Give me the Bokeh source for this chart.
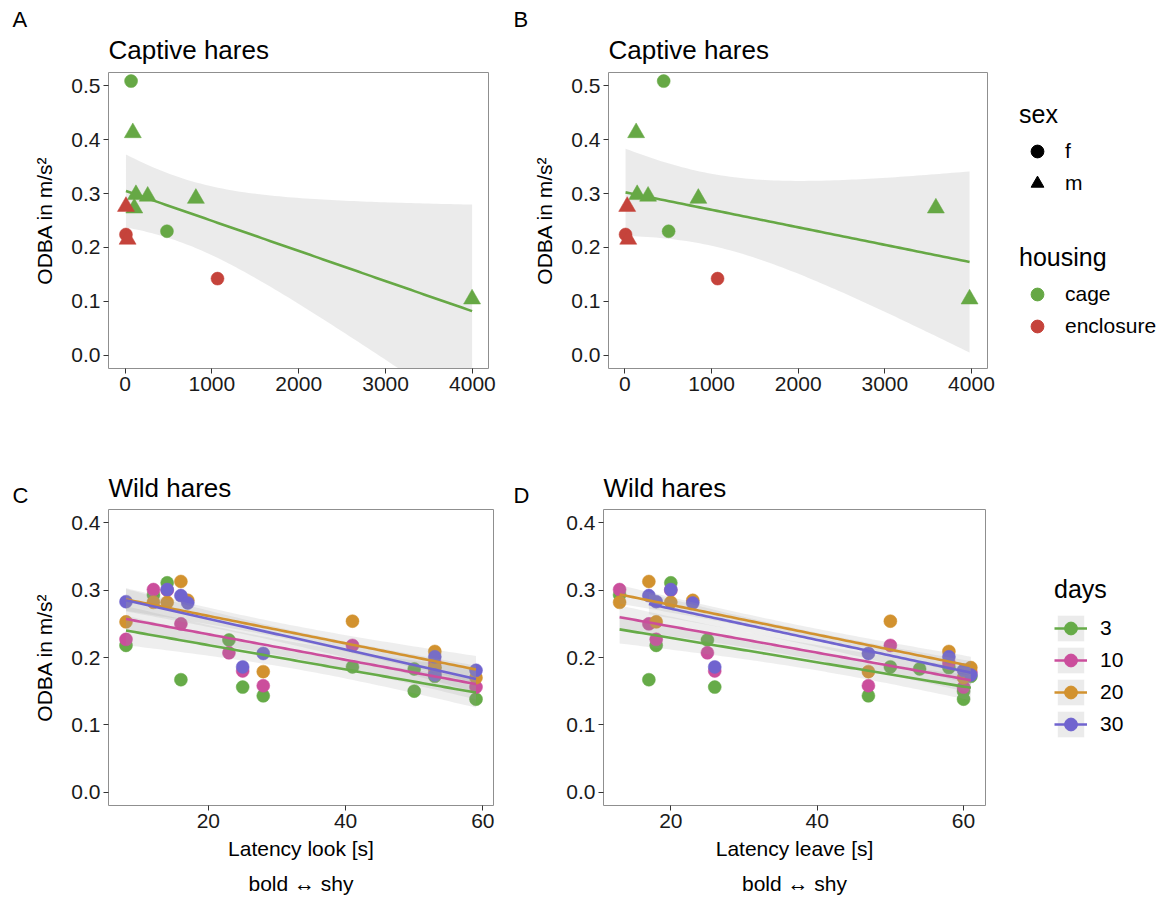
import numpy as np
from bokeh.plotting import figure
from bokeh.models import (Range1d, Legend, LegendItem, LinearAxis,
                          FixedTicker, NumeralTickFormatter)
from bokeh.layouts import row, column
from bokeh.embed import file_html
from bokeh.resources import INLINE

FONT = "Liberation Sans"

# ---------------- data: captive hares (panels A, B) ----------------
captive_latency_look = [70, 90, 126, 261, 816, 107, 11, 11, 30, 483, 1065, 3996]
captive_latency_leave = [447, 129, 141, 267, 847, 3589, 26, 7, 38, 504, 1069, 3978]
captive_odba = [0.509, 0.413, 0.298, 0.295, 0.291, 0.273, 0.276, 0.224, 0.215, 0.230, 0.142, 0.104]
captive_sex = ["f", "m", "m", "m", "m", "m", "m", "f", "m", "f", "f", "m"]
captive_housing = ["cage", "cage", "cage", "cage", "cage", "cage", "enclosure",
                   "enclosure", "enclosure", "cage", "enclosure", "cage"]

# ---------------- data: wild hares (panels C, D) ----------------
wild_latency_look = [8, 12, 14, 16, 17, 23, 25, 28, 41, 50, 50, 53, 53, 59]
wild_latency_leave = [18, 13, 20, 17, 23, 25, 26, 47, 50, 60, 54, 58, 61, 60]
days = ["3", "10", "20", "30"]
odba_day3 = [0.218, 0.293, 0.311, 0.167, None, 0.226, 0.156, 0.143, 0.186, 0.150, 0.183, 0.185, 0.172, 0.138]
odba_day10 = [0.227, 0.301, 0.300, 0.250, None, 0.207, 0.180, 0.158, 0.218, None, None, 0.192, 0.178, 0.156]
odba_day20 = [0.253, 0.282, 0.282, 0.313, 0.285, None, None, 0.179, 0.254, None, None, 0.209, 0.185, 0.170]
odba_day30 = [0.283, None, 0.301, 0.292, 0.281, None, 0.186, 0.206, None, None, None, 0.201, 0.174, 0.181]
odba_by_day = [odba_day3, odba_day10, odba_day20, odba_day30]

# tick values
captive_xticks = [0, 1000, 2000, 3000, 4000]
captive_yticks = [0.0, 0.1, 0.2, 0.3, 0.4, 0.5]
wild_xticks = [20, 40, 60]
wild_yticks = [0.0, 0.1, 0.2, 0.3, 0.4]

# colours
HOUSING_COLORS = {"cage": "#66A845", "enclosure": "#C5433B"}
DAY_COLORS = ["#66AB48", "#CB4E9C", "#D2922F", "#7064CF"]
BAND = "#999999"

# 97.5% quantiles of Student's t
T975 = {5: 2.571, 6: 2.447, 7: 2.365, 8: 2.306, 9: 2.262, 10: 2.228, 11: 2.201,
        12: 2.179, 13: 2.160, 14: 2.145, 15: 2.131, 16: 2.120}


def lm_fit(x, y, ci95=True):
    """Least-squares line with a 95% confidence band (or a +/- 1 SE band)."""
    x = np.asarray(x, float)
    y = np.asarray([np.nan if v is None else v for v in y], float)
    ok = ~np.isnan(y)
    x, y = x[ok], y[ok]
    n = len(x)
    b, a = np.polyfit(x, y, 1)
    xs = np.linspace(x.min(), x.max(), 80)
    fit = a + b * xs
    s = np.sqrt(np.sum((y - (a + b * x)) ** 2) / (n - 2))
    sxx = np.sum((x - x.mean()) ** 2)
    se = s * np.sqrt(1.0 / n + (xs - x.mean()) ** 2 / sxx)
    mult = T975[n - 2] if ci95 else 1.0
    return xs, fit, fit - mult * se, fit + mult * se


def style(p, xticks, yticks, xfmt, yfmt):
    p.outline_line_color = "#8F8F8F"
    p.xgrid.visible = False
    p.ygrid.visible = False
    p.xaxis.ticker = FixedTicker(ticks=xticks)
    p.yaxis.ticker = FixedTicker(ticks=yticks)
    p.xaxis.formatter = NumeralTickFormatter(format=xfmt)
    p.yaxis.formatter = NumeralTickFormatter(format=yfmt)
    for ax in list(p.xaxis) + list(p.yaxis):
        ax.axis_line_color = None
        ax.major_tick_in = 0
        ax.major_tick_out = 5
        ax.major_tick_line_color = "#333333"
        ax.minor_tick_line_color = None
        ax.major_label_text_font = FONT
        ax.major_label_text_font_size = "21px"
        ax.major_label_text_color = "#1A1A1A"
        ax.major_label_standoff = 3
        ax.axis_label_text_font = FONT
        ax.axis_label_text_font_size = "21px"
        ax.axis_label_text_font_style = "normal"
        ax.axis_label_text_color = "#000000"


def set_title(p, text, standoff):
    p.title.text = text
    p.title.align = "left"
    p.title.text_font = FONT
    p.title.text_font_size = "26px"
    p.title.text_font_style = "normal"
    p.title.text_color = "#000000"
    p.title.standoff = standoff


def blank_canvas(width, height, top, left):
    p = figure(width=width, height=height, output_backend="svg", toolbar_location=None,
               x_range=Range1d(0, 1), y_range=Range1d(0, 1),
               x_axis_type=None, y_axis_type=None,
               min_border_left=left, min_border_top=top,
               min_border_right=0, min_border_bottom=0)
    p.outline_line_color = None
    p.xgrid.visible = False
    p.ygrid.visible = False
    return p


def letter_canvas(letter, height, top, left):
    p = blank_canvas(30, height, top, left)
    p.title.text = letter
    p.title.align = "left"
    p.title.text_font = FONT
    p.title.text_font_size = "22px"
    p.title.text_font_style = "normal"
    p.title.text_color = "#000000"
    p.title.standoff = 0
    return column(p, spacing=0)


def captive_panel(xvals, left, right):
    p = figure(width=470, height=440, output_backend="svg", toolbar_location=None,
               x_range=Range1d(-190, 4185), y_range=Range1d(-0.025, 0.525),
               min_border_left=left, min_border_right=right,
               min_border_top=72, min_border_bottom=72)
    set_title(p, "Captive hares", 16)
    xs, fit, lo, hi = lm_fit(xvals, captive_odba)
    p.varea(x=xs, y1=lo, y2=hi, fill_color=BAND, fill_alpha=0.2)
    p.line(xs, fit, line_color=HOUSING_COLORS["cage"], line_width=2.6)
    for sex, marker, size in (("f", "circle", 13), ("m", "triangle", 17)):
        for h in ("cage", "enclosure"):
            xx = [x for x, s, hh in zip(xvals, captive_sex, captive_housing) if s == sex and hh == h]
            yy = [y for y, s, hh in zip(captive_odba, captive_sex, captive_housing) if s == sex and hh == h]
            p.scatter(xx, yy, marker=marker, size=size, fill_color=HOUSING_COLORS[h],
                      line_color=HOUSING_COLORS[h], line_width=0.5)
    style(p, captive_xticks, captive_yticks, "0", "0.0")
    p.yaxis.axis_label = "ODBA in m/s²"
    p.yaxis.axis_label_standoff = 12
    return p


def wild_panel(xvals, left, right, xrange, xlabel, ylabel):
    p = figure(width=470, height=459, output_backend="svg", toolbar_location=None,
               x_range=Range1d(*xrange), y_range=Range1d(-0.02, 0.42),
               min_border_left=left, min_border_right=right,
               min_border_top=69, min_border_bottom=94)
    set_title(p, "Wild hares", 13)
    for vals, col in zip(odba_by_day, DAY_COLORS):
        xx = [x for x, v in zip(xvals, vals) if v is not None]
        yy = [v for v in vals if v is not None]
        p.scatter(xx, yy, marker="circle", size=13, fill_color=col, line_color=col, line_width=0.5)
    fits = [lm_fit(xvals, vals, ci95=False) for vals in odba_by_day]
    for xs, fit, lo, hi in fits:
        p.varea(x=xs, y1=lo, y2=hi, fill_color=BAND, fill_alpha=0.17)
    for (xs, fit, lo, hi), col in zip(fits, DAY_COLORS):
        p.line(xs, fit, line_color=col, line_width=2.6)
    style(p, wild_xticks, wild_yticks, "0", "0.0")
    p.xaxis.axis_label = xlabel
    p.xaxis.axis_label_standoff = 6
    if ylabel:
        p.yaxis.axis_label = ylabel
        p.yaxis.axis_label_standoff = 12
    extra = LinearAxis(axis_label="bold \u2194 shy", ticker=FixedTicker(ticks=[]),
                       axis_line_color=None, major_tick_line_color=None,
                       minor_tick_line_color=None, major_label_text_font_size="0px",
                       axis_label_text_font=FONT, axis_label_text_font_size="21px",
                       axis_label_text_font_style="normal", axis_label_text_color="#000000",
                       axis_label_standoff=9)
    p.add_layout(extra, "below")
    return p


def style_legend(lg, gw, gh):
    lg.location = "top_left"
    lg.margin = 0
    lg.padding = 0
    lg.spacing = 0
    lg.border_line_color = None
    lg.background_fill_alpha = 0
    lg.glyph_width = gw
    lg.glyph_height = gh
    lg.label_height = gh
    lg.label_standoff = 10
    lg.label_text_font = FONT
    lg.label_text_font_size = "21px"
    lg.label_text_color = "#000000"
    lg.title_text_font = FONT
    lg.title_text_font_size = "25px"
    lg.title_text_font_style = "normal"
    lg.title_text_color = "#000000"
    lg.title_standoff = 6


# off-screen anchor for legend-only glyphs (outside the 0..1 ranges)
OFF = [-10, -9]

# ---------------- panels ----------------
pA = captive_panel(captive_latency_look, 78, 12)
pB = captive_panel(captive_latency_leave, 77, 13)
pC = wild_panel(wild_latency_look, 78, 7, (5.45, 61.55), "Latency look [s]", "ODBA in m/s²")
pD = wild_panel(wild_latency_leave, 73, 15, (10.8, 63.0), "Latency leave [s]", None)

# ---------------- legends ----------------
lsex = blank_canvas(164, 210, 100, 19)
r_f = lsex.scatter(OFF, OFF, marker="circle", size=13, fill_color="#000000", line_color="#000000")
r_m = lsex.scatter(OFF, OFF, marker="triangle", size=16, fill_color="#000000", line_color="#000000")
leg_sex = Legend(items=[LegendItem(label="f", renderers=[r_f]),
                        LegendItem(label="m", renderers=[r_m])], title="sex")
style_legend(leg_sex, 36, 32)
lsex.add_layout(leg_sex, "center")

lhouse = blank_canvas(164, 230, 33, 19)
h_items = []
for h in ("cage", "enclosure"):
    r = lhouse.scatter(OFF, OFF, marker="circle", size=10, fill_color=HOUSING_COLORS[h],
                       line_color=HOUSING_COLORS[h])
    h_items.append(LegendItem(label=h, renderers=[r]))
leg_house = Legend(items=h_items, title="housing")
style_legend(leg_house, 36, 32)
lhouse.add_layout(leg_house, "center")

ldays = blank_canvas(164, 459, 135, 54)
d_items = []
for d, col in zip(days, DAY_COLORS):
    ra = ldays.varea(x=OFF, y1=[-10, -10], y2=OFF, fill_color=BAND, fill_alpha=0.2)
    rl = ldays.line(OFF, OFF, line_color=col, line_width=2.6)
    rs = ldays.scatter(OFF, OFF, marker="circle", size=11, fill_color=col, line_color=col)
    d_items.append(LegendItem(label=d, renderers=[ra, rl, rs]))
leg_days = Legend(items=d_items, title="days")
style_legend(leg_days, 33, 32)
leg_days.label_standoff = 13
leg_days.title_standoff = 8
ldays.add_layout(leg_days, "center")

row1 = row(letter_canvas("A", 440, 31, 12), pA,
           letter_canvas("B", 440, 31, 13), pB,
           column(lsex, lhouse, spacing=0), spacing=0)
row2 = row(letter_canvas("C", 459, 67, 12), pC,
           letter_canvas("D", 459, 67, 13), pD,
           column(ldays, spacing=0), spacing=0)
layout = column(row1, row2, spacing=0)

open("out.html", "w").write(file_html(layout, INLINE))
